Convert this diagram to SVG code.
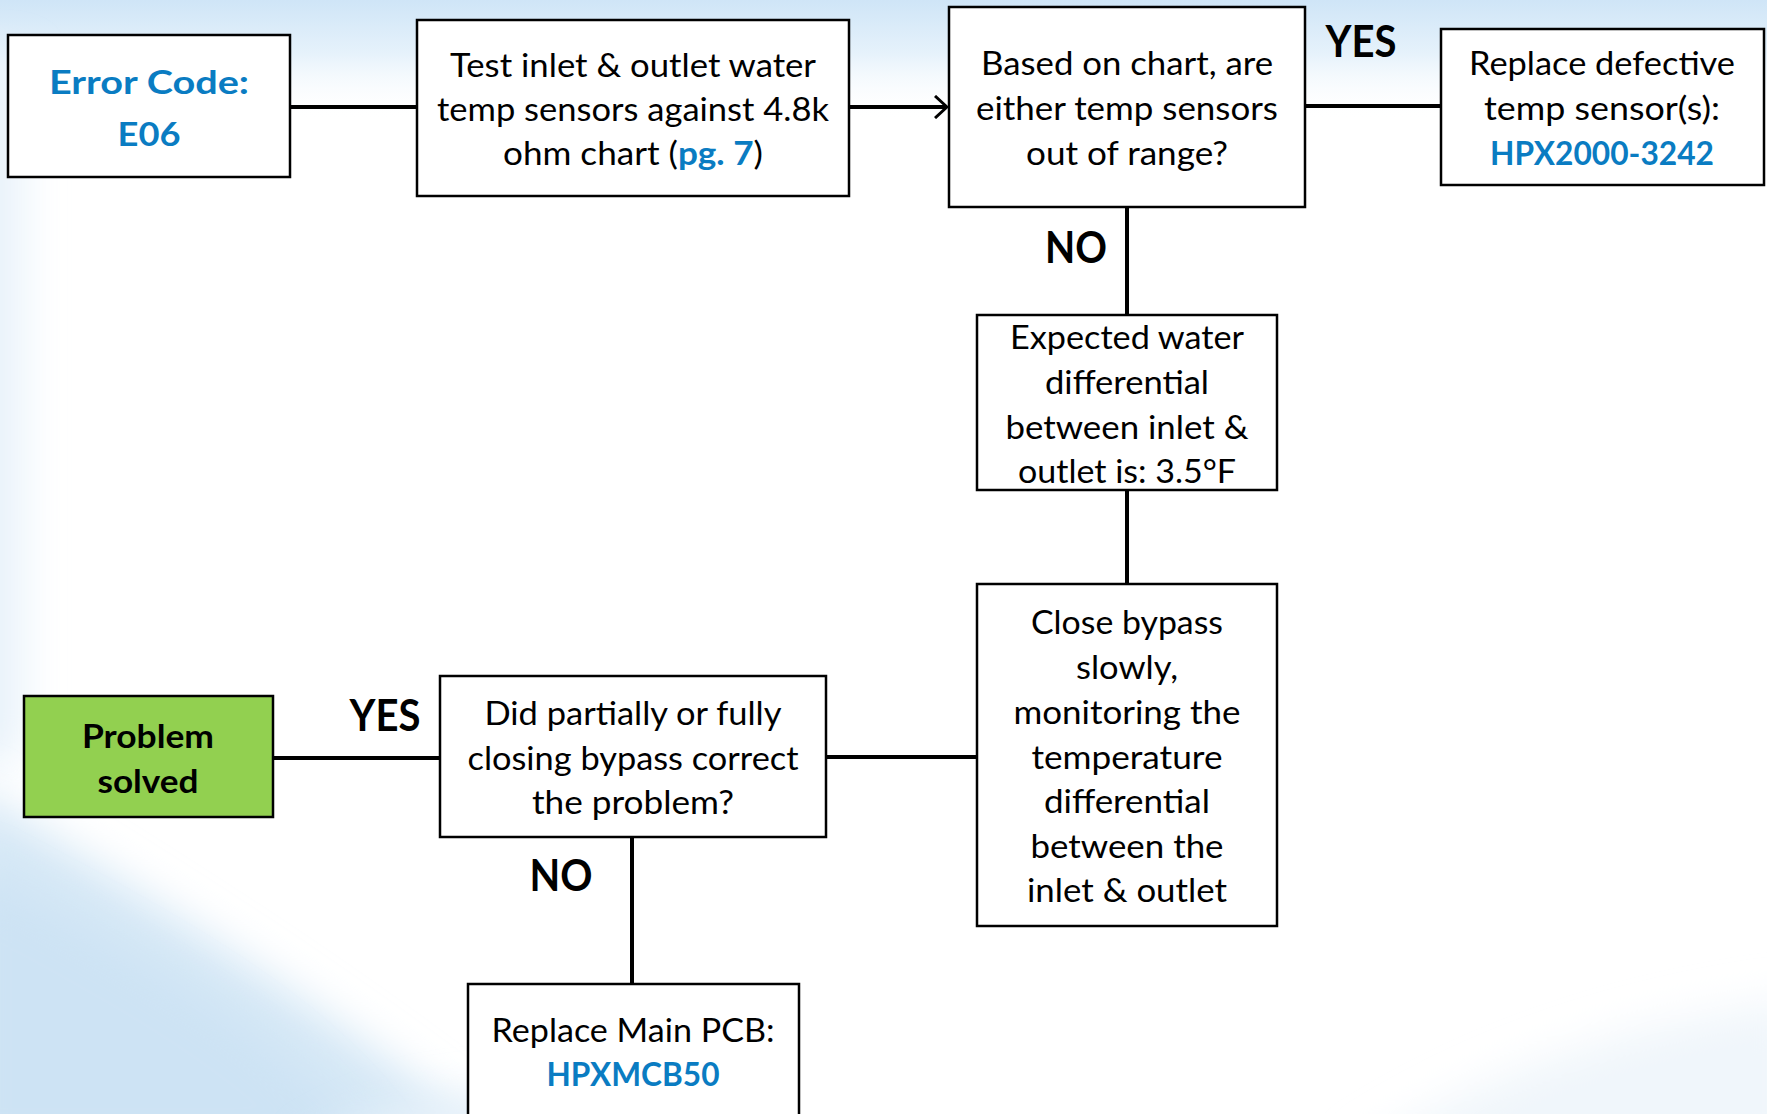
<svg xmlns="http://www.w3.org/2000/svg" width="1767" height="1114" viewBox="0 0 1767 1114">
<defs>
<linearGradient id="topg" x1="0" y1="0" x2="0" y2="1">
<stop offset="0" stop-color="#cfe5f7"/>
<stop offset="0.45" stop-color="#e6f2fb"/>
<stop offset="1" stop-color="#ffffff" stop-opacity="0"/>
</linearGradient>
<filter id="blur" filterUnits="userSpaceOnUse" x="-300" y="-300" width="2400" height="1800"><feGaussianBlur stdDeviation="22"/></filter>
<filter id="blur2" filterUnits="userSpaceOnUse" x="-300" y="-300" width="2400" height="1800"><feGaussianBlur stdDeviation="10"/></filter>
<marker id="arr" viewBox="0 0 14 24" refX="13" refY="12" markerWidth="14" markerHeight="24" markerUnits="userSpaceOnUse" orient="auto">
<path d="M1,1 L13,12 L1,23" fill="none" stroke="#000" stroke-width="3"/>
</marker>
<style>
.box{fill:#fff;stroke:#000;stroke-width:2.5}
.green{fill:#92d050;stroke:#000;stroke-width:2.5}
.t{font-family:Lato,"Liberation Sans",sans-serif;font-size:33px;fill:#000;text-anchor:middle}
.b{font-weight:700}
.blue{fill:#0a7cc2;font-weight:700}
.lbl{font-family:Lato,"Liberation Sans",sans-serif;font-size:43px;font-weight:700;fill:#000;text-anchor:middle}
.c{fill:none;stroke:#000;stroke-width:4}
</style>
</defs>
<g id="background">
<rect x="0" y="0" width="1767" height="1114" fill="#fff"/>
<rect x="0" y="0" width="1767" height="120" fill="url(#topg)"/>
<path d="M-60,60 L20,60 L20,760 L-60,760 Z" fill="#e6f1fa" filter="url(#blur)"/>
<path d="M-40,780 C120,880 320,1000 520,1160 L-40,1160 Z" fill="#d6e8f6" filter="url(#blur)"/>
<path d="M-40,860 C150,960 300,1040 380,1160 L-40,1160 Z" fill="#cde3f4" filter="url(#blur)"/>
<path d="M300,1160 C450,1060 600,1090 760,1160 Z" fill="#e8f2fa" filter="url(#blur)"/>
<path d="M1350,1160 C1500,1060 1650,1020 1800,1000 L1800,1160 Z" fill="#f0f6fb" filter="url(#blur)"/>
</g>
<g id="connectors">
<line class="c" x1="290" y1="107" x2="417" y2="107"/>
<line class="c" x1="849" y1="107" x2="947" y2="107" marker-end="url(#arr)"/>
<line class="c" x1="1305" y1="106" x2="1441" y2="106"/>
<line class="c" x1="1127" y1="207" x2="1127" y2="315"/>
<line class="c" x1="1127" y1="490" x2="1127" y2="584"/>
<line class="c" x1="826" y1="757" x2="977" y2="757"/>
<line class="c" x1="273" y1="758" x2="440" y2="758"/>
<line class="c" x1="632" y1="837" x2="632" y2="984"/>
</g>
<g id="labels">
<text class="lbl" x="1361" y="57" textLength="71" lengthAdjust="spacingAndGlyphs">YES</text>
<text class="lbl" x="1076" y="263" textLength="62" lengthAdjust="spacingAndGlyphs">NO</text>
<text class="lbl" x="385" y="731" textLength="71" lengthAdjust="spacingAndGlyphs">YES</text>
<text class="lbl" x="561" y="891" textLength="63" lengthAdjust="spacingAndGlyphs">NO</text>
</g>
<g id="error-code">
<rect class="box" x="8" y="35" width="282" height="142"/>
<text class="t blue" x="149" y="94" font-size="35" textLength="200" lengthAdjust="spacingAndGlyphs">Error Code:</text>
<text class="t blue" x="149" y="146" font-size="35" textLength="63" lengthAdjust="spacingAndGlyphs">E06</text>
</g>
<g id="test-sensors">
<rect class="box" x="417" y="20" width="432" height="176"/>
<text class="t" x="633" y="77" textLength="366" lengthAdjust="spacingAndGlyphs">Test inlet &amp; outlet water</text>
<text class="t" x="633" y="121" textLength="392" lengthAdjust="spacingAndGlyphs">temp sensors against 4.8k</text>
<text class="t" x="633" y="165" textLength="260" lengthAdjust="spacingAndGlyphs">ohm chart (<tspan class="blue">pg. 7</tspan>)</text>
</g>
<g id="based-on-chart">
<rect class="box" x="949" y="7" width="356" height="200"/>
<text class="t" x="1127" y="75" textLength="292" lengthAdjust="spacingAndGlyphs">Based on chart, are</text>
<text class="t" x="1127" y="120" textLength="302" lengthAdjust="spacingAndGlyphs">either temp sensors</text>
<text class="t" x="1127" y="165" textLength="202" lengthAdjust="spacingAndGlyphs">out of range?</text>
</g>
<g id="replace-sensor">
<rect class="box" x="1441" y="29" width="323" height="156"/>
<text class="t" x="1602" y="75" textLength="266" lengthAdjust="spacingAndGlyphs">Replace defective</text>
<text class="t" x="1602" y="120" textLength="236" lengthAdjust="spacingAndGlyphs">temp sensor(s):</text>
<text class="t blue" x="1602" y="165" textLength="224" lengthAdjust="spacingAndGlyphs">HPX2000-3242</text>
</g>
<g id="expected-differential">
<rect class="box" x="977" y="315" width="300" height="175"/>
<text class="t" x="1127" y="349" textLength="234" lengthAdjust="spacingAndGlyphs">Expected water</text>
<text class="t" x="1127" y="394" textLength="164" lengthAdjust="spacingAndGlyphs">differential</text>
<text class="t" x="1127" y="439" textLength="243" lengthAdjust="spacingAndGlyphs">between inlet &amp;</text>
<text class="t" x="1127" y="483" textLength="218" lengthAdjust="spacingAndGlyphs">outlet is: 3.5°F</text>
</g>
<g id="close-bypass">
<rect class="box" x="977" y="584" width="300" height="342"/>
<text class="t" x="1127" y="634" textLength="192" lengthAdjust="spacingAndGlyphs">Close bypass</text>
<text class="t" x="1127" y="679" textLength="102" lengthAdjust="spacingAndGlyphs">slowly,</text>
<text class="t" x="1127" y="724" textLength="227" lengthAdjust="spacingAndGlyphs">monitoring the</text>
<text class="t" x="1127" y="769" textLength="191" lengthAdjust="spacingAndGlyphs">temperature</text>
<text class="t" x="1127" y="813" textLength="166" lengthAdjust="spacingAndGlyphs">differential</text>
<text class="t" x="1127" y="858" textLength="193" lengthAdjust="spacingAndGlyphs">between the</text>
<text class="t" x="1127" y="902" textLength="200" lengthAdjust="spacingAndGlyphs">inlet &amp; outlet</text>
</g>
<g id="did-bypass-fix">
<rect class="box" x="440" y="676" width="386" height="161"/>
<text class="t" x="633" y="725" textLength="297" lengthAdjust="spacingAndGlyphs">Did partially or fully</text>
<text class="t" x="633" y="770" textLength="331" lengthAdjust="spacingAndGlyphs">closing bypass correct</text>
<text class="t" x="633" y="814" textLength="202" lengthAdjust="spacingAndGlyphs">the problem?</text>
</g>
<g id="problem-solved">
<rect class="green" x="24" y="696" width="249" height="121"/>
<text class="t b" x="148" y="748" textLength="132" lengthAdjust="spacingAndGlyphs">Problem</text>
<text class="t b" x="148" y="793" textLength="101" lengthAdjust="spacingAndGlyphs">solved</text>
</g>
<g id="replace-pcb">
<rect class="box" x="468" y="984" width="331" height="150"/>
<text class="t" x="633" y="1042" textLength="283" lengthAdjust="spacingAndGlyphs">Replace Main PCB:</text>
<text class="t blue" x="633" y="1086" textLength="173" lengthAdjust="spacingAndGlyphs">HPXMCB50</text>
</g>
</svg>
